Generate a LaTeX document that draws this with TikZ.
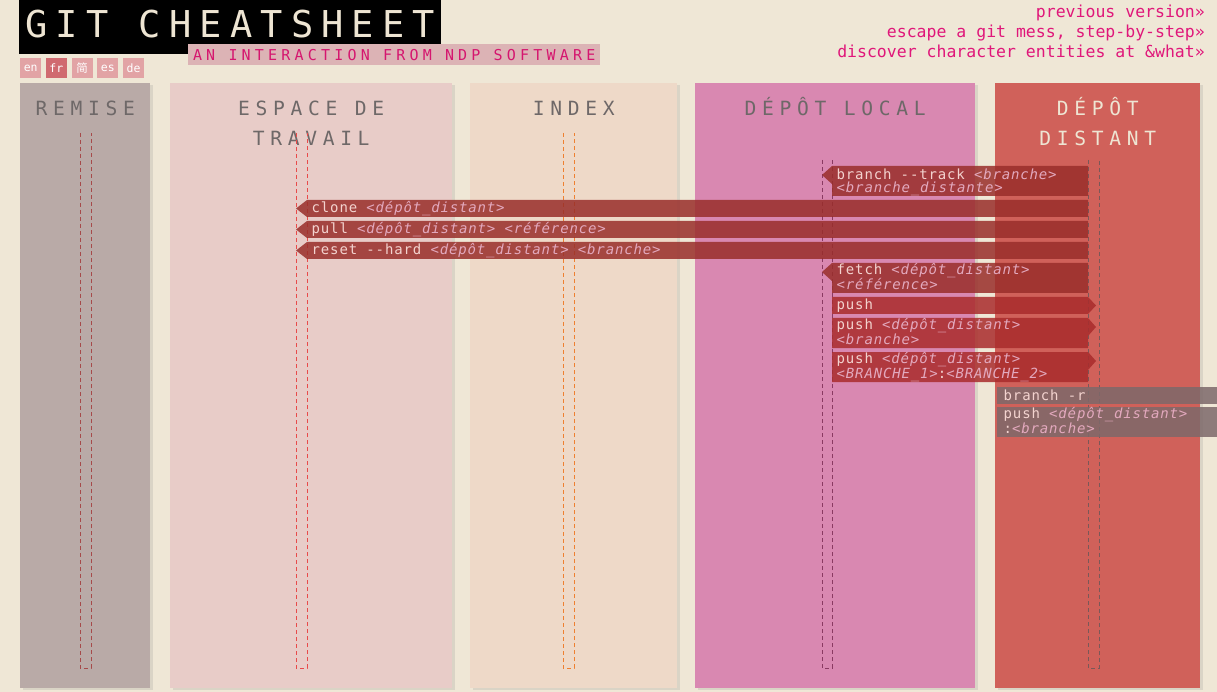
\documentclass[tikz,border=0pt]{standalone}
\usepackage{fontspec}
\setmonofont{DejaVu Sans Mono}
\newfontfamily\titlefont[LetterSpace=22]{DejaVu Sans Mono}
\newfontfamily\subfont[LetterSpace=28]{DejaVu Sans Mono}
\newfontfamily\headfont[LetterSpace=29]{DejaVu Sans Mono}
\newfontfamily\cmdfont[LetterSpace=6]{DejaVu Sans Mono}
\newfontfamily\cjkfont{Noto Sans CJK SC}
\usetikzlibrary{positioning}
\usetikzlibrary{shadows}
\definecolor{bgcol}{HTML}{EFE7D6}
\definecolor{remisecol}{HTML}{B9AAA7}
\definecolor{travailcol}{HTML}{E8CCC8}
\definecolor{indexcol}{HTML}{EED9C8}
\definecolor{localcol}{HTML}{D988B1}
\definecolor{distantcol}{HTML}{D0615A}
\definecolor{pullcol}{HTML}{992E2A}
\definecolor{pushcol}{HTML}{A92C2C}
\definecolor{infocol}{HTML}{7D696A}
\definecolor{cmdcol}{HTML}{F3D3CF}
\definecolor{phcol}{HTML}{E3A9BE}
\definecolor{headcol}{HTML}{6E6868}
\definecolor{linkcol}{HTML}{E0177A}
\definecolor{subcol}{HTML}{D5166F}
\definecolor{subbg}{HTML}{DCB3B5}
\definecolor{langcol}{HTML}{E2A3A5}
\definecolor{langsel}{HTML}{D06A70}
\definecolor{titletext}{HTML}{EEE5D3}
\newcommand\ph[1]{{\color{phcol}\itshape<#1>}}
\tikzstyle{lang}=[fill=langcol,text=white,minimum width=21pt,minimum height=20pt,inner sep=0,font=\ttfamily\fontsize{11.5}{12}\selectfont]
\tikzstyle{cmd}=[font=\cmdfont\fontsize{14}{12.5}\selectfont,text=cmdcol,align=left,anchor=base west,inner sep=0,xshift=4.5pt]

\begin{document}
\begin{tikzpicture}[
  x=1pt,y=-1pt,
  column/.style={anchor=north west,minimum height=605pt,inner sep=0,drop shadow={shadow xshift=3pt,shadow yshift=-2pt,opacity=.18}},
  heading/.style={font=\headfont\fontsize{19.6}{30}\selectfont,text=headcol,align=center,anchor=base},
  lifeline/.style={dash pattern=on 4pt off 3pt,line width=.9pt},
  pullbar/.style={fill=pullcol,fill opacity=.85},
  pushbar/.style={fill=pushcol,fill opacity=.85},
  infobar/.style={fill=infocol,fill opacity=.85},
]
  \useasboundingbox (0,0) rectangle (1217,692);
  \fill[bgcol] (0,0) rectangle (1217,692);
  \coordinate (edge) at (1217,0);

  % header
  \node[fill=black,text=titletext,anchor=north west,minimum width=422pt,minimum height=54pt,inner sep=0,text depth=6pt,
        font=\titlefont\fontsize{37}{40}\selectfont] (title) at (19,0) {GIT CHEATSHEET};
  \node[fill=subbg,text=subcol,anchor=north west,minimum width=412pt,minimum height=21pt,inner sep=0,
        font=\subfont\fontsize{15}{16}\selectfont] (subtitle) at (188,44) {AN INTERACTION FROM NDP SOFTWARE};
  \node[lang,anchor=north west] (en) at (20,58) {en};
  \node[lang,fill=langsel,right=4.3pt of en] (fr) {fr};
  \node[lang,right=4.3pt of fr,font=\cjkfont\fontsize{11.5}{12}\selectfont] (zh) {简};
  \node[lang,right=4.3pt of zh] (es) {es};
  \node[lang,right=4.3pt of es] (de) {de};
  % anchor base = last line
  \node[font=\ttfamily\fontsize{16.5}{20}\selectfont,text=linkcol,align=right,anchor=base east,inner sep=0] (links) at (1205,58)
    {previous version»\\escape a git mess, step-by-step»\\discover character entities at \&what»};

  % columns
  \node[column,fill=remisecol,minimum width=130pt] (remise) at (20,83) {};
  \node[column,fill=travailcol,minimum width=282pt] (travail) at (170,83) {};
  \node[column,fill=indexcol,minimum width=207pt] (index) at (470,83) {};
  \node[column,fill=localcol,minimum width=280pt] (local) at (695,83) {};
  \node[column,fill=distantcol,minimum width=205pt] (distant) at (995,83) {};

  \node[heading] (h-remise) at (remise.north |- 0,116) {REMISE};
  \node[heading] (h-travail) at (travail.north |- 0,146) {ESPACE DE\\TRAVAIL};
  \node[heading] (h-index) at (index.north |- 0,116) {INDEX};
  \node[heading] (h-local) at (local.north |- 0,116) {DÉPÔT LOCAL};
  \node[heading,text=titletext] (h-distant) at (distant.north |- 0,146) {DÉPÔT\\DISTANT};

  % lifelines
  \foreach \name/\xl/\xr/\top/\col in {remise/80/91/133/A64A4A, travail/296/307/133/E84A4A,
      index/563/574/133/EE8030, local/822/832/160/8A3A62, distant/1088/1099/160/7A5858}{
    \definecolor{linecol}{HTML}{\col}
    \draw[lifeline,linecol] (\xl,\top) -- (\xl,668) -- (\xr,668) -- (\xr,\top);
    \coordinate (\name-l) at (\xl,\top);
    \coordinate (\name-r) at (\xr,\top);
  }

  % distant -> local
  \fill[pullbar] (local-r |- 0,166) -- (distant-l |- 0,166) -- (distant-l |- 0,196) -- (local-r |- 0,196)
    -- (local-r |- 0,184) -- (local-l |- 0,175) -- cycle;
  \node[cmd] (track) at (local-r |- 0,192.5) {branch --track \ph{branche}\\\ph{branche\_distante}};

  % distant -> espace de travail
  \fill[pullbar] (travail-r |- 0,200) -- (distant-l |- 0,200) -- (distant-l |- 0,217) -- (travail-r |- 0,217)
    -- (travail-l |- 0,208.5) -- cycle;
  \node[cmd] (clone) at (travail-r |- 0,213) {clone \ph{dépôt\_distant}};
  \fill[pullbar] (travail-r |- 0,221) -- (distant-l |- 0,221) -- (distant-l |- 0,238) -- (travail-r |- 0,238)
    -- (travail-l |- 0,229.5) -- cycle;
  \node[cmd] (pull) at (travail-r |- 0,234) {pull \ph{dépôt\_distant} \ph{référence}};
  \fill[pullbar] (travail-r |- 0,242) -- (distant-l |- 0,242) -- (distant-l |- 0,259) -- (travail-r |- 0,259)
    -- (travail-l |- 0,250.5) -- cycle;
  \node[cmd] (reset) at (travail-r |- 0,255) {reset --hard \ph{dépôt\_distant} \ph{branche}};

  % distant -> local
  \fill[pullbar] (local-r |- 0,263) -- (distant-l |- 0,263) -- (distant-l |- 0,293) -- (local-r |- 0,293)
    -- (local-r |- 0,281) -- (local-l |- 0,272) -- cycle;
  \node[cmd] (fetch) at (local-r |- 0,289.5) {fetch \ph{dépôt\_distant}\\\ph{référence}};

  % local -> distant
  \fill[pushbar] (local-r |- 0,297) -- (distant-l |- 0,297) -- ([xshift=-3pt]distant-r |- 0,305.5)
    -- (distant-l |- 0,314) -- (local-r |- 0,314) -- cycle;
  \node[cmd] (push) at (local-r |- 0,310) {push};
  \fill[pushbar] (local-r |- 0,318) -- (distant-l |- 0,318) -- ([xshift=-3pt]distant-r |- 0,327)
    -- (distant-l |- 0,336) -- (distant-l |- 0,348) -- (local-r |- 0,348) -- cycle;
  \node[cmd] (push-br) at (local-r |- 0,344.5) {push \ph{dépôt\_distant}\\\ph{branche}};
  \fill[pushbar] (local-r |- 0,352) -- (distant-l |- 0,352) -- ([xshift=-3pt]distant-r |- 0,361)
    -- (distant-l |- 0,370) -- (distant-l |- 0,382) -- (local-r |- 0,382) -- cycle;
  \node[cmd] (push-map) at (local-r |- 0,378.5) {push \ph{dépôt\_distant}\\\ph{BRANCHE\_1}:\ph{BRANCHE\_2}};

  % distant only
  \fill[infobar] ([xshift=2pt]distant.west |- 0,387) rectangle (edge |- 0,404);
  \node[cmd,xshift=2pt] (branch-r) at ([xshift=2pt]distant.west |- 0,400) {branch -r};
  \fill[infobar] ([xshift=2pt]distant.west |- 0,407) rectangle (edge |- 0,437);
  \node[cmd,xshift=2pt] (push-del) at ([xshift=2pt]distant.west |- 0,433.5) {push \ph{dépôt\_distant}\\:\ph{branche}};
\end{tikzpicture}
\end{document}
